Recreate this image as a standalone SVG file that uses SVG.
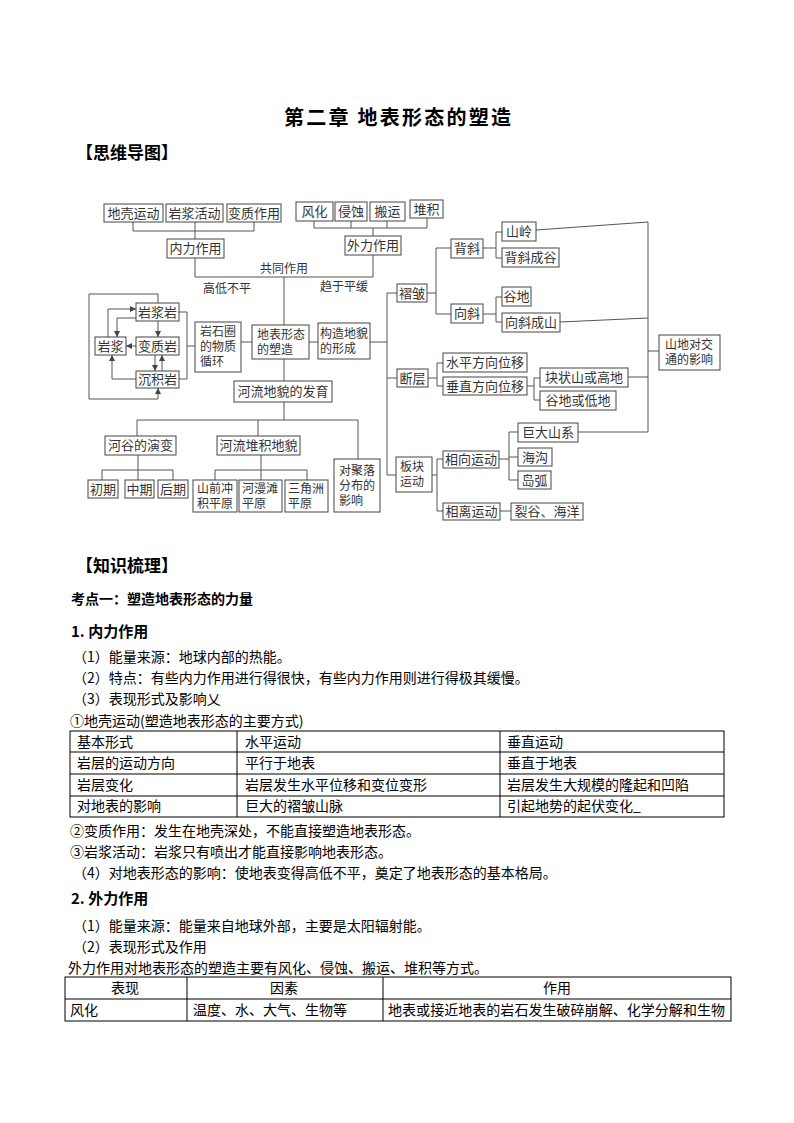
<svg xmlns="http://www.w3.org/2000/svg" width="794" height="1123" viewBox="0 0 794 1123">
<defs>
<style>
.bx{fill:#fff;stroke:#444;stroke-width:1}
.ln{fill:none;stroke:#555;stroke-width:1}
.tb{fill:none;stroke:#000;stroke-width:1}
.m{font-family:"Noto Sans CJK SC","Liberation Sans",sans-serif;font-size:12px;fill:#333}
.mc{font-family:"Noto Sans CJK SC","Liberation Sans",sans-serif;font-size:13px;fill:#333;text-anchor:middle}
.t{font-family:"Noto Sans CJK SC","Liberation Sans",sans-serif;font-size:14px;fill:#000}
.tc{font-family:"Noto Sans CJK SC","Liberation Sans",sans-serif;font-size:14px;fill:#000;text-anchor:middle}
.h{font-family:"Noto Sans CJK SC","Liberation Sans",sans-serif;font-weight:bold;fill:#000}
</style>
<marker id="ar" viewBox="0 0 8 8" refX="8" refY="4" markerWidth="6" markerHeight="6" orient="auto" markerUnits="userSpaceOnUse">
<path d="M0,0 L8,4 L0,8 z" fill="#444"/>
</marker>
</defs>
<rect width="794" height="1123" fill="#fff"/>

<!-- headings -->
<text class="h" x="284" y="125" font-size="20" textLength="227">第二章 地表形态的塑造</text>
<text class="h" x="76" y="159" font-size="17">【思维导图】</text>

<!-- connectors -->
<g id="connectors">
<path class="ln" d="M133,222V231H254V222M195,222V239"/>
<path class="ln" d="M195,258V277H373V255M284,277V325"/>
<path class="ln" d="M314,221V228H427V218M351,221V228M387,221V228M373,228V236"/>
<!-- rock cycle -->
<path class="ln" d="M158,303V294H89V399H158V388" marker-end="url(#ar)"/>
<path class="ln" d="M108,337V309H136" marker-end="url(#ar)"/>
<path class="ln" d="M136,318H117V337" marker-end="url(#ar)"/>
<path class="ln" d="M158,321V337" marker-end="url(#ar)"/>
<path class="ln" d="M136,346H126" marker-end="url(#ar)"/>
<path class="ln" d="M155,355V371" marker-end="url(#ar)"/>
<path class="ln" d="M162,371V355" marker-end="url(#ar)"/>
<path class="ln" d="M136,379H112V355" marker-end="url(#ar)"/>
<path class="ln" d="M179,312H187V379H179M187,346H195"/>
<path class="ln" d="M241,342H252M309,342H318M370,342H387M387,293V475M387,293H397M387,378H397M387,475H396"/>
<!-- river -->
<path class="ln" d="M284,359V381M284,402V420M137,420H358M137,420V436M258,420V436M358,420V459"/>
<path class="ln" d="M138,455V470M102,470H173M102,470V480M138,470V480M173,470V480"/>
<path class="ln" d="M261,455V470M215,470H307M215,470V480M261,470V480M307,470V480"/>
<!-- folds -->
<path class="ln" d="M427,293H436M436,248V314M436,248H451M436,314H451"/>
<path class="ln" d="M483,248H496M496,232V258M496,232H502M496,258H502"/>
<path class="ln" d="M483,314H496M496,297V322M496,297H502M496,322H502"/>
<!-- faults -->
<path class="ln" d="M428,378H437M437,363V386M437,363H443M437,386H443"/>
<path class="ln" d="M527,386H534M534,378V400M534,378H540M534,400H540"/>
<!-- plates -->
<path class="ln" d="M432,475H437M437,459V511M437,459H443M437,511H443"/>
<path class="ln" d="M499,459H509M509,432V480M509,432H518M509,457H518M509,480H518"/>
<path class="ln" d="M500,511H511"/>
<!-- to traffic -->
<path class="ln" d="M536,230L648,222M560,322L648,318M628,377H648M578,432H648M648,222V432M648,351H659"/>
</g>

<!-- labels on connectors -->
<text class="m" x="260" y="273">共同作用</text>
<text class="m" x="203" y="293">高低不平</text>
<text class="m" x="320" y="291">趋于平缓</text>

<g id="n1"><rect class="bx" x="104" y="204" width="59" height="18"/><text class="mc" x="133.5" y="217.5">地壳运动</text></g>
<g id="n2"><rect class="bx" x="166" y="204" width="57" height="18"/><text class="mc" x="194.5" y="217.5">岩浆活动</text></g>
<g id="n3"><rect class="bx" x="227" y="204" width="54" height="18"/><text class="mc" x="254" y="217.5">变质作用</text></g>
<g id="n4"><rect class="bx" x="296" y="202" width="37" height="19"/><text class="mc" x="314.5" y="216">风化</text></g>
<g id="n5"><rect class="bx" x="335" y="202" width="32" height="19"/><text class="mc" x="351" y="216">侵蚀</text></g>
<g id="n6"><rect class="bx" x="370" y="202" width="35" height="19"/><text class="mc" x="387.5" y="216">搬运</text></g>
<g id="n7"><rect class="bx" x="410" y="200" width="33" height="18"/><text class="mc" x="426.5" y="213.5">堆积</text></g>
<g id="n8"><rect class="bx" x="167" y="239" width="57" height="19"/><text class="mc" x="195.5" y="253">内力作用</text></g>
<g id="n9"><rect class="bx" x="345" y="236" width="56" height="19"/><text class="mc" x="373" y="250">外力作用</text></g>
<g id="n10"><rect class="bx" x="136" y="303" width="43" height="18"/><text class="mc" x="157.5" y="316.5">岩浆岩</text></g>
<g id="n11"><rect class="bx" x="95" y="337" width="31" height="18"/><text class="mc" x="110.5" y="350.5">岩浆</text></g>
<g id="n12"><rect class="bx" x="136" y="337" width="43" height="18"/><text class="mc" x="157.5" y="350.5">变质岩</text></g>
<g id="n13"><rect class="bx" x="136" y="371" width="43" height="17"/><text class="mc" x="157.5" y="384">沉积岩</text></g>
<g id="n14"><rect class="bx" x="195" y="322" width="46" height="50"/><text class="m" x="200" y="336">岩石圈</text><text class="m" x="200" y="351">的物质</text><text class="m" x="200" y="366">循环</text></g>
<g id="n15"><rect class="bx" x="252" y="325" width="57" height="34"/><text class="m" x="257" y="339">地表形态</text><text class="m" x="257" y="354">的塑造</text></g>
<g id="n16"><rect class="bx" x="318" y="323" width="52" height="36"/><text class="m" x="320" y="338">构造地貌</text><text class="m" x="320" y="353">的形成</text></g>
<g id="n17"><rect class="bx" x="234" y="381" width="98" height="21"/><text class="mc" x="283" y="396">河流地貌的发育</text></g>
<g id="n18"><rect class="bx" x="105" y="436" width="71" height="19"/><text class="mc" x="140.5" y="450">河谷的演变</text></g>
<g id="n19"><rect class="bx" x="217" y="436" width="83" height="19"/><text class="mc" x="258.5" y="450">河流堆积地貌</text></g>
<g id="n20"><rect class="bx" x="334" y="459" width="46" height="53"/><text class="m" x="339" y="475">对聚落</text><text class="m" x="339" y="490">分布的</text><text class="m" x="339" y="505">影响</text></g>
<g id="n21"><rect class="bx" x="88" y="480" width="30" height="18"/><text class="mc" x="103" y="493.5">初期</text></g>
<g id="n22"><rect class="bx" x="125" y="480" width="29" height="18"/><text class="mc" x="139.5" y="493.5">中期</text></g>
<g id="n23"><rect class="bx" x="158" y="480" width="30" height="18"/><text class="mc" x="173" y="493.5">后期</text></g>
<g id="n24"><rect class="bx" x="193" y="480" width="44" height="32"/><text class="m" x="197" y="493">山前冲</text><text class="m" x="197" y="508">积平原</text></g>
<g id="n25"><rect class="bx" x="239" y="480" width="43" height="32"/><text class="m" x="242" y="493">河漫滩</text><text class="m" x="242" y="508">平原</text></g>
<g id="n26"><rect class="bx" x="285" y="480" width="43" height="32"/><text class="m" x="288" y="493">三角洲</text><text class="m" x="288" y="508">平原</text></g>
<g id="n27"><rect class="bx" x="397" y="284" width="30" height="18"/><text class="mc" x="412" y="297.5">褶皱</text></g>
<g id="n28"><rect class="bx" x="397" y="369" width="31" height="18"/><text class="mc" x="412.5" y="382.5">断层</text></g>
<g id="n29"><rect class="bx" x="396" y="457" width="36" height="35"/><text class="m" x="400" y="471">板块</text><text class="m" x="400" y="486">运动</text></g>
<g id="n30"><rect class="bx" x="451" y="239" width="32" height="19"/><text class="mc" x="467" y="253">背斜</text></g>
<g id="n31"><rect class="bx" x="451" y="304" width="32" height="19"/><text class="mc" x="467" y="318">向斜</text></g>
<g id="n32"><rect class="bx" x="502" y="222" width="34" height="19"/><text class="mc" x="519" y="236">山岭</text></g>
<g id="n33"><rect class="bx" x="502" y="248" width="57" height="19"/><text class="mc" x="530.5" y="262">背斜成谷</text></g>
<g id="n34"><rect class="bx" x="502" y="287" width="29" height="19"/><text class="mc" x="516.5" y="301">谷地</text></g>
<g id="n35"><rect class="bx" x="502" y="313" width="58" height="19"/><text class="mc" x="531" y="327">向斜成山</text></g>
<g id="n36"><rect class="bx" x="443" y="353" width="84" height="19"/><text class="mc" x="485" y="367">水平方向位移</text></g>
<g id="n37"><rect class="bx" x="443" y="377" width="84" height="18"/><text class="mc" x="485" y="390.5">垂直方向位移</text></g>
<g id="n38"><rect class="bx" x="540" y="368" width="88" height="19"/><text class="mc" x="584" y="382">块状山或高地</text></g>
<g id="n39"><rect class="bx" x="540" y="391" width="76" height="19"/><text class="mc" x="578" y="405">谷地或低地</text></g>
<g id="n40"><rect class="bx" x="443" y="451" width="56" height="17"/><text class="mc" x="471" y="464">相向运动</text></g>
<g id="n41"><rect class="bx" x="443" y="503" width="57" height="17"/><text class="mc" x="471.5" y="516">相离运动</text></g>
<g id="n42"><rect class="bx" x="518" y="423" width="60" height="19"/><text class="mc" x="548" y="437">巨大山系</text></g>
<g id="n43"><rect class="bx" x="518" y="448" width="34" height="18"/><text class="mc" x="535" y="461.5">海沟</text></g>
<g id="n44"><rect class="bx" x="518" y="471" width="33" height="18"/><text class="mc" x="534.5" y="484.5">岛弧</text></g>
<g id="n45"><rect class="bx" x="511" y="503" width="72" height="17"/><text class="mc" x="547" y="516">裂谷、海洋</text></g>
<g id="n46"><rect class="bx" x="659" y="335" width="61" height="35"/><text class="m" x="665" y="349">山地对交</text><text class="m" x="665" y="364">通的影响</text></g>

<!-- knowledge section -->
<text class="h" x="76" y="572" font-size="17">【知识梳理】</text>
<text class="h" x="71" y="604" font-size="14">考点一：塑造地表形态的力量</text>
<text class="h" x="71" y="637" font-size="15">1. 内力作用</text>
<text class="t" x="73" y="662">（1）能量来源：地球内部的热能。</text>
<text class="t" x="73" y="683">（2）特点：有些内力作用进行得很快，有些内力作用则进行得极其缓慢。</text>
<text class="t" x="73" y="704">（3）表现形式及影响乂</text>
<text class="t" x="70" y="726">①地壳运动(塑造地表形态的主要方式)</text>

<g id="table1">
<rect class="tb" x="70" y="731" width="654" height="86"/>
<path class="tb" d="M70,752H724M70,774H724M70,796H724M237,731V817M500,731V817"/>
<text class="t" x="77" y="747">基本形式</text><text class="t" x="245" y="747">水平运动</text><text class="t" x="507" y="747">垂直运动</text>
<text class="t" x="77" y="768">岩层的运动方向</text><text class="t" x="245" y="768">平行于地表</text><text class="t" x="507" y="768">垂直于地表</text>
<text class="t" x="77" y="790">岩层变化</text><text class="t" x="245" y="790">岩层发生水平位移和变位变形</text><text class="t" x="507" y="790">岩层发生大规模的隆起和凹陷</text>
<text class="t" x="77" y="811">对地表的影响</text><text class="t" x="245" y="811">巨大的褶皱山脉</text><text class="t" x="507" y="811">引起地势的起伏变化_</text>
</g>

<text class="t" x="70" y="836">②变质作用：发生在地壳深处，不能直接塑造地表形态。</text>
<text class="t" x="70" y="857">③岩浆活动：岩浆只有喷出才能直接影响地表形态。</text>
<text class="t" x="73" y="878">（4）对地表形态的影响：使地表变得高低不平，奠定了地表形态的基本格局。</text>
<text class="h" x="71" y="904" font-size="15">2. 外力作用</text>
<text class="t" x="73" y="931">（1）能量来源：能量来自地球外部，主要是太阳辐射能。</text>
<text class="t" x="73" y="952">（2）表现形式及作用</text>
<text class="t" x="68" y="973">外力作用对地表形态的塑造主要有风化、侵蚀、搬运、堆积等方式。</text>

<g id="table2">
<rect class="tb" x="65" y="977" width="666" height="44" stroke-width="1.3"/>
<path class="tb" d="M65,999H731M187,977V1021M383,977V1021"/>
<text class="tc" x="125" y="993">表现</text><text class="tc" x="284" y="993">因素</text><text class="tc" x="557" y="993">作用</text>
<text class="t" x="70" y="1015">风化</text><text class="t" x="193" y="1015">温度、水、大气、生物等</text><text class="t" x="388" y="1015" textLength="337">地表或接近地表的岩石发生破碎崩解、化学分解和生物</text>
</g>
</svg>
